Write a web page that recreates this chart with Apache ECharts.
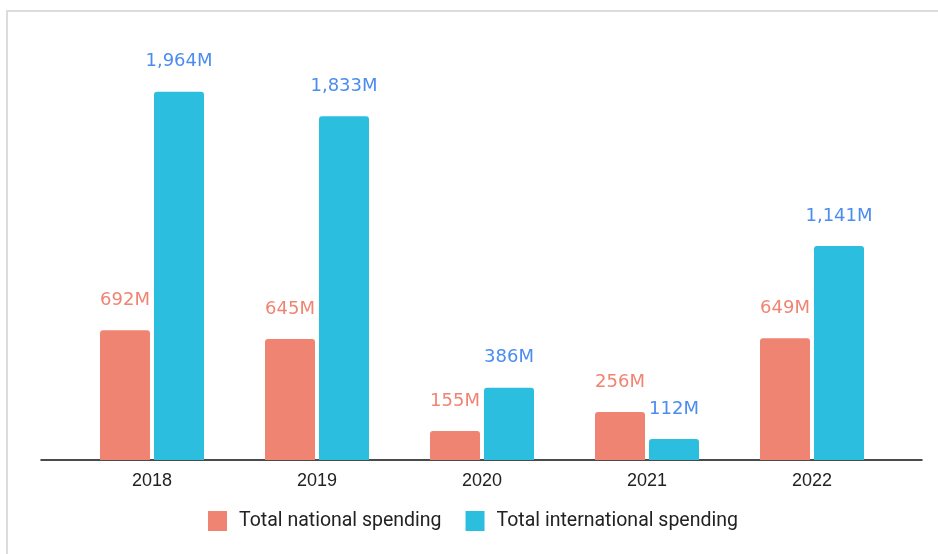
<!DOCTYPE html>
<html>
<head>
<meta charset="utf-8">
<script src="https://cdn.jsdelivr.net/npm/echarts@6/dist/echarts.min.js"></script>
<style>
html,body{margin:0;padding:0;background:#fff;}
#frame{position:absolute;left:6px;top:10px;width:940px;height:560px;border-left:2px solid #dcdcdc;border-top:2px solid #dcdcdc;box-sizing:border-box;}
#chart{position:absolute;left:0;top:0;width:938px;height:554px;}
</style>
</head>
<body>
<div id="frame"></div>
<div id="chart"></div>
<script>
const categories = ['2018', '2019', '2020', '2021', '2022'];
const nationalSpending = [692, 645, 155, 256, 649];
const internationalSpending = [1964, 1833, 386, 112, 1141];
const seriesNames = ['Total national spending', 'Total international spending'];

const chart = echarts.init(document.getElementById('chart'));
const fmt = p => p.value.toLocaleString('en-US') + 'M';
chart.setOption({
  animation: false,
  legend: {
    bottom: 18,
    left: 203,
    icon: 'rect',
    itemWidth: 19,
    itemHeight: 20,
    itemGap: 24,
    itemStyle: {borderRadius: 2},
    textStyle: {fontFamily: 'Roboto', fontSize: 19.5, color: '#222', padding: [0, 0, 0, 7]},
    data: seriesNames
  },
  grid: [
    {left: 69.5, width: 825, top: 85, height: 375},
    {left: 41, right: 16, top: 85, height: 375}
  ],
  xAxis: [
    {type: 'category', gridIndex: 0, data: categories,
     axisLine: {show: false}, axisTick: {show: false},
     axisLabel: {fontFamily: 'Liberation Sans', fontSize: 18, color: '#222', margin: 12}},
    {type: 'category', gridIndex: 1, data: [],
     axisLine: {show: true, lineStyle: {color: '#111', width: 1.5}},
     axisTick: {show: false}, axisLabel: {show: false}}
  ],
  yAxis: [
    {type: 'value', gridIndex: 0, min: 0, max: 2000, show: false},
    {type: 'value', gridIndex: 1, min: 0, max: 2000, show: false}
  ],
  series: [
    {name: seriesNames[0], type: 'bar', data: nationalSpending,
     barWidth: 50, barGap: '8%',
     itemStyle: {color: '#F08473', borderRadius: [3, 3, 0, 0]},
     label: {show: true, position: 'top', distance: 21, formatter: fmt,
             fontFamily: 'DejaVu Sans', fontSize: 18, color: '#F08473'}},
    {name: seriesNames[1], type: 'bar', data: internationalSpending,
     barWidth: 50, barGap: '8%',
     itemStyle: {color: '#2BBEDE', borderRadius: [3, 3, 0, 0]},
     label: {show: true, position: 'top', distance: 21, formatter: fmt,
             fontFamily: 'DejaVu Sans', fontSize: 18, color: '#4A8CF0'}}
  ]
});
</script>
</body>
</html>
